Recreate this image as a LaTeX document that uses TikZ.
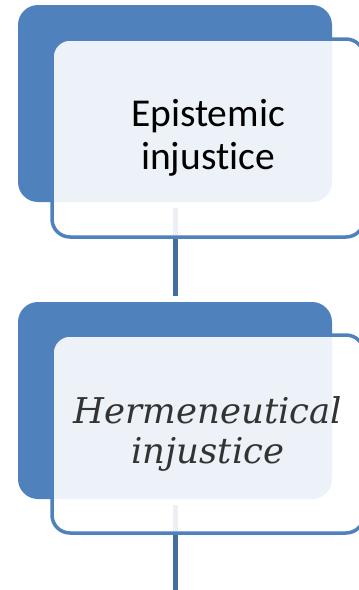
\documentclass[tikz,border=0pt]{standalone}
\usepackage{fontspec}
\setmainfont[Ligatures=NoCommon]{Carlito}
\newfontfamily\headserif{DejaVu Serif}
\definecolor{accent}{RGB}{79,129,189}
\definecolor{linkblue}{RGB}{65,112,160}
\definecolor{inktext}{RGB}{51,51,51}
\begin{document}
\begin{tikzpicture}[x=1pt,y=-1pt,
  backbox/.style={rectangle, rounded corners=20pt, fill=accent, draw=none,
    minimum width=314pt, minimum height=197pt, inner sep=0pt, outer sep=0pt},
  frontbox/.style={rectangle, rounded corners=18pt, draw=accent, line width=3.5pt,
    fill=white, fill opacity=0.9, text opacity=1,
    minimum width=312pt, minimum height=198pt, inner sep=0pt, outer sep=0pt,
    align=center},
  link/.style={draw=linkblue, line width=5pt}]
  \useasboundingbox (0,0) rectangle (359,590);
  \begin{scope}
    \clip (0,0) rectangle (359,590);
    % first pair
    \node[backbox] (back1) at (175,103.5) {};
    % second pair
    \node[backbox] (back2) at (175,400.5) {};
    \coordinate (tail) at (175,590);
    % connectors sit under the front panels
    \draw[link, shorten <=6pt, shorten >=6pt] (back1.south) -- (back2.north);
    \draw[link, shorten <=6pt] (back2.south) -- (tail);
    \node[frontbox, font=\fontsize{39.5}{43}\selectfont] (front1) at (208,138)
      {Epistemic\\injustice};
    \node[frontbox, text=inktext, font=\headserif\itshape\fontsize{35.5}{40}\selectfont]
      (front2) at (208,434) {Hermeneutical\\injustice};
  \end{scope}
\end{tikzpicture}
\end{document}
